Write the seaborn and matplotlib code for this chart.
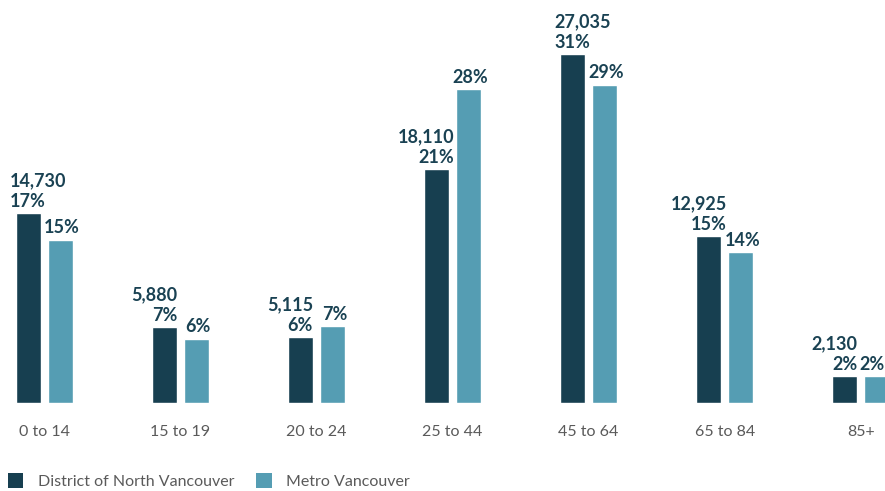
import matplotlib
matplotlib.use("Agg")
import matplotlib.pyplot as plt
import seaborn as sns
import pandas as pd
from matplotlib.patches import Patch

# Population by age group
age_groups = ["0 to 14", "15 to 19", "20 to 24", "25 to 44", "45 to 64", "65 to 84", "85+"]
dnv_counts = [14730, 5880, 5115, 18110, 27035, 12925, 2130]
metro_share = [14.7, 5.8, 6.9, 28.3, 28.7, 13.6, 2.4]
series_names = ["District of North Vancouver", "Metro Vancouver"]

# Which side of the percent label the count line lines up with
count_align = ["left", "right", "right", "right", "left", "right", "right"]

dark = "#173f50"
light = "#559db3"
text_dark = "#1a4253"
tick_grey = "#5a5a5a"

total = sum(dnv_counts)
dnv_share = [c / total * 100 for c in dnv_counts]

df = pd.DataFrame({
    "age": age_groups * 2,
    "series": [series_names[0]] * len(age_groups) + [series_names[1]] * len(age_groups),
    "share": dnv_share + metro_share,
})

sns.set_theme(style="white")
plt.rcParams["font.family"] = ["Lato", "DejaVu Sans"]

W, H = 885, 491
fig = plt.figure(figsize=(W / 100, H / 100), dpi=100)
ax = fig.add_axes([0, 88 / H, 1, 403 / H])

sns.barplot(data=df, x="age", y="share", hue="series", order=age_groups,
            hue_order=series_names, palette=[dark, light], width=0.47, gap=0.22,
            saturation=1, errorbar=None, legend=False, ax=ax)

ax.set_xlim(-0.325, 6.178)
ax.set_ylim(0, 403 / 11.09)
ax.set_xlabel("")
ax.set_ylabel("")
ax.set_yticks([])
for s in ax.spines.values():
    s.set_visible(False)
ax.tick_params(axis="x", length=0, pad=16, labelsize=11.5, labelcolor=tick_grey)

px = 0.72  # points per pixel at 100 dpi
label_kw = dict(fontsize=13, fontweight="bold", color=text_dark)

dark_bars, light_bars = ax.containers[0], ax.containers[1]
for i, (bar, cnt, shr) in enumerate(zip(dark_bars, dnv_counts, dnv_share)):
    cx = bar.get_x() + bar.get_width() / 2
    top = bar.get_height()
    pct = ax.annotate(f"{shr:.0f}%", xy=(cx, top), xytext=(0, 6 * px),
                      textcoords="offset points", ha="center", va="baseline",
                      **label_kw)
    fx = 0 if count_align[i] == "left" else 1
    ax.annotate(f"{cnt:,}", xy=(fx, top), xycoords=(pct, "data"),
                xytext=(0, 26.7 * px), textcoords="offset points",
                ha=count_align[i], va="baseline", **label_kw)

n = len(metro_share)
for j, (bar, shr) in enumerate(zip(light_bars, metro_share)):
    cx = bar.get_x() + bar.get_width() / 2
    if j == n - 1:
        # last bar runs into the right edge: keep its label inside the figure
        ax.annotate(f"{shr:.0f}%", xy=(1, bar.get_height()), xycoords=("axes fraction", "data"),
                    xytext=(0, 6.5 * px), textcoords="offset points",
                    ha="right", va="baseline", **label_kw)
    else:
        ax.annotate(f"{shr:.0f}%", xy=(cx, bar.get_height()), xytext=(2 * px, 6.5 * px),
                    textcoords="offset points", ha="center", va="baseline", **label_kw)

handles = [Patch(facecolor=dark, edgecolor="none"), Patch(facecolor=light, edgecolor="none")]
fig.legend(handles, series_names, loc="lower left", bbox_to_anchor=(8 / W, 2 / H),
           ncol=2, frameon=False, handlelength=0.95, handleheight=1.05,
           handletextpad=0.9, columnspacing=1.4, borderpad=0, borderaxespad=0,
           prop={"size": 11.5}, labelcolor=tick_grey)

fig.savefig("out.png", dpi=100)
